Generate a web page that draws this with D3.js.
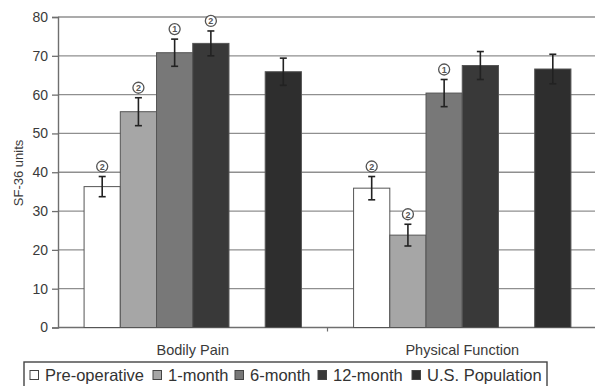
<!DOCTYPE html>
<html>
<head>
<meta charset="utf-8">
<script src="https://cdn.jsdelivr.net/npm/d3@7"></script>
<style>
  html, body { margin: 0; padding: 0; background: #fff; }
  svg { display: block; font-family: "Liberation Sans", Arial, sans-serif; }
</style>
</head>
<body>
<svg id="chart" width="595" height="386"></svg>
<script>
// SF-36 scores by follow-up time
const categories = ["Bodily Pain", "Physical Function"];
const seriesNames = ["Pre-operative", "1-month", "6-month", "12-month", "U.S. Population"];
const preOperative   = [36.3, 35.9];
const oneMonth       = [55.6, 23.8];
const sixMonth       = [70.8, 60.4];
const twelveMonth    = [73.2, 67.5];
const usPopulation   = [65.9, 66.6];
const preOperativeErr = [2.6, 3.0];
const oneMonthErr     = [3.6, 2.8];
const sixMonthErr     = [3.5, 3.5];
const twelveMonthErr  = [3.2, 3.6];
const usPopulationErr = [3.5, 3.8];
// significance markers (circled numbers) per series and category
const preOperativeMark = ["2", "2"];
const oneMonthMark     = ["2", "2"];
const sixMonthMark     = ["1", "1"];
const twelveMonthMark  = ["2", ""];
const usPopulationMark = ["", ""];
const yTicks = [0, 10, 20, 30, 40, 50, 60, 70, 80];

const fills = ["#ffffff", "#a6a6a6", "#787878", "#393939", "#2e2e2e"];
// slot order within a category: the slot before the population bar stays empty
const slots = ["Pre-operative", "1-month", "6-month", "12-month", "gap", "U.S. Population"];

const seriesVals = [preOperative, oneMonth, sixMonth, twelveMonth, usPopulation];
const seriesErr = [preOperativeErr, oneMonthErr, sixMonthErr, twelveMonthErr, usPopulationErr];
const seriesMark = [preOperativeMark, oneMonthMark, sixMonthMark, twelveMonthMark, usPopulationMark];

const rows = [];
categories.forEach((c, ci) => {
  seriesNames.forEach((s, si) => {
    rows.push({cat: c, series: s, si, value: seriesVals[si][ci], err: seriesErr[si][ci], mark: seriesMark[si][ci]});
  });
});

const svg = d3.select("#chart");
const plotLeft = 58, plotRight = 597, plotTop = 17, plotBottom = 327.5;

const x0 = d3.scaleBand().domain(categories).range([plotLeft, plotRight]).paddingInner(0).paddingOuter(0);
const x1 = d3.scaleBand().domain(slots).range([0, x0.bandwidth()]).paddingInner(0).paddingOuter(0.72);
const y = d3.scaleLinear().domain([0, 80]).range([plotBottom, plotTop]);

// gridlines
svg.append("g").selectAll("line").data(yTicks.filter(d => d > 0)).join("line")
  .attr("x1", plotLeft).attr("x2", plotRight)
  .attr("y1", d => y(d)).attr("y2", d => y(d))
  .attr("stroke", "#8f8f8f").attr("stroke-width", 1.3);

// y axis
const yAxis = svg.append("g").attr("transform", `translate(${plotLeft},0)`)
  .call(d3.axisLeft(y).tickValues(yTicks).tickSize(6).tickPadding(4));
yAxis.select(".domain").attr("stroke", "#6f6f6f").attr("stroke-width", 1.4);
yAxis.selectAll(".tick line").attr("stroke", "#6f6f6f").attr("stroke-width", 1.3);
yAxis.selectAll(".tick text").attr("font-size", 14).attr("fill", "#3a3a3a")
  .attr("font-family", "Liberation Sans, Arial, sans-serif");

// x axis baseline with a tick between categories
svg.append("line").attr("x1", plotLeft).attr("x2", plotRight).attr("y1", plotBottom).attr("y2", plotBottom)
  .attr("stroke", "#6f6f6f").attr("stroke-width", 1.4);
svg.append("g").selectAll("line").data(categories.slice(1)).join("line")
  .attr("x1", d => x0(d)).attr("x2", d => x0(d))
  .attr("y1", plotBottom).attr("y2", plotBottom + 4)
  .attr("stroke", "#6f6f6f").attr("stroke-width", 1.2);

// category labels
svg.append("g").selectAll("text").data(categories).join("text")
  .attr("x", d => x0(d) + x0.bandwidth() / 2).attr("y", 355)
  .attr("text-anchor", "middle").attr("font-size", 14.5).attr("fill", "#3a3a3a")
  .text(d => d);

// y axis title
svg.append("text")
  .attr("transform", "translate(23,173) rotate(-90)")
  .attr("text-anchor", "middle").attr("font-size", 13).attr("fill", "#3a3a3a")
  .text("SF-36 units");

// bars
svg.append("g").selectAll("rect").data(rows).join("rect")
  .attr("x", d => x0(d.cat) + x1(d.series))
  .attr("width", x1.bandwidth())
  .attr("y", d => y(d.value))
  .attr("height", d => y(0) - y(d.value))
  .attr("fill", d => fills[d.si])
  .attr("stroke", "#555").attr("stroke-width", 1);

// error bars
const eb = svg.append("g").attr("stroke", "#222").attr("stroke-width", 1.6);
rows.forEach(d => {
  const cx = x0(d.cat) + x1(d.series) + x1.bandwidth() / 2;
  eb.append("line").attr("x1", cx).attr("x2", cx).attr("y1", y(d.value + d.err)).attr("y2", y(d.value - d.err));
  eb.append("line").attr("x1", cx - 3.5).attr("x2", cx + 3.5).attr("y1", y(d.value + d.err)).attr("y2", y(d.value + d.err));
  eb.append("line").attr("x1", cx - 3.5).attr("x2", cx + 3.5).attr("y1", y(d.value - d.err)).attr("y2", y(d.value - d.err));
});

// circled significance markers
const mk = svg.append("g");
rows.filter(d => d.mark).forEach(d => {
  const cx = x0(d.cat) + x1(d.series) + x1.bandwidth() / 2;
  const cy = y(d.value + d.err) - 10;
  mk.append("circle").attr("cx", cx).attr("cy", cy).attr("r", 5.5)
    .attr("fill", "#fff").attr("stroke", "#555").attr("stroke-width", 1.3);
  mk.append("text").attr("x", cx).attr("y", cy + 3.3).attr("text-anchor", "middle")
    .attr("font-size", 9).attr("font-weight", "bold").attr("fill", "#555").text(d.mark);
});

// legend
const lg = svg.append("g");
const boxX = 24, boxW = 523;
lg.append("rect").attr("x", boxX).attr("y", 362).attr("width", boxW).attr("height", 30)
  .attr("fill", "#fff").attr("stroke", "#444").attr("stroke-width", 1.4);
const legendX = [30, 153, 235, 318, 412];
const labels = [];
seriesNames.forEach((s, i) => {
  lg.append("rect").attr("x", legendX[i]).attr("y", 370.5).attr("width", 8.5).attr("height", 9)
    .attr("fill", fills[i]).attr("stroke", "#444").attr("stroke-width", 1);
  labels.push(lg.append("text").attr("x", legendX[i] + 15).attr("y", 381)
    .attr("font-size", 16.5).attr("fill", "#333").text(s));
});
// keep each label clear of the next swatch / the box edge
labels.forEach((t, i) => {
  const limit = (i < labels.length - 1 ? legendX[i + 1] - 4 : boxX + boxW - 4) - (legendX[i] + 15);
  const w = t.node().getComputedTextLength();
  if (w > limit) t.attr("textLength", limit).attr("lengthAdjust", "spacingAndGlyphs");
});
</script>
</body>
</html>
